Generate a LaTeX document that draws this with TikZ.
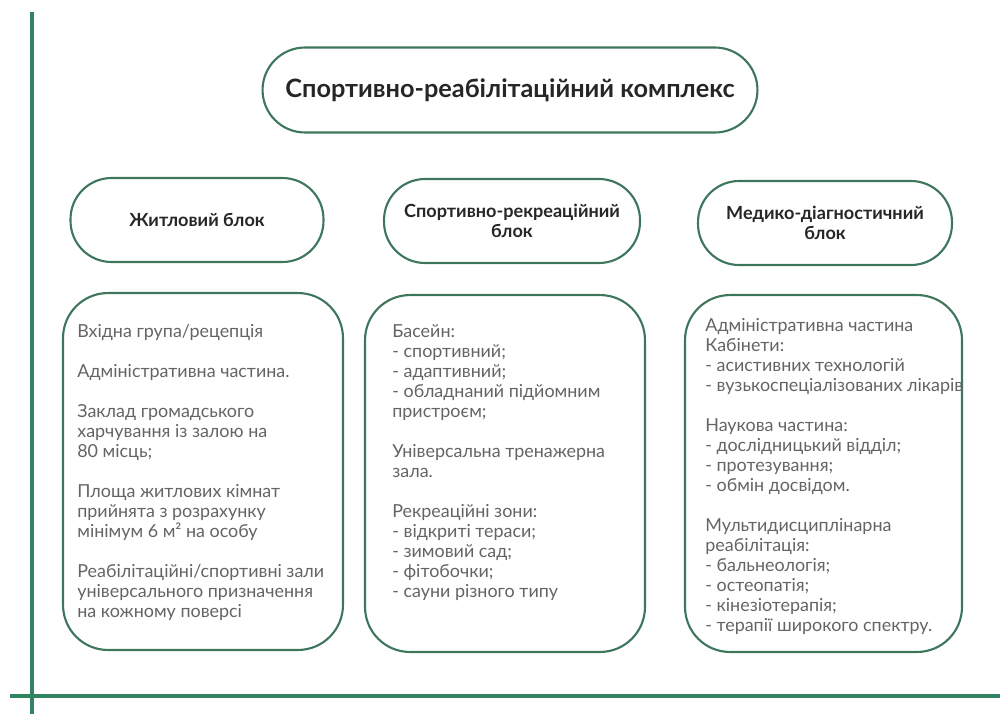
\documentclass[tikz,border=0pt]{standalone}
\usepackage{fontspec}
\setmainfont{Lato}
\usepackage{xcolor}
\usetikzlibrary{positioning}
\definecolor{framegreen}{RGB}{62,118,92}
\definecolor{rulegreen}{RGB}{50,132,96}
\definecolor{bodygray}{RGB}{100,100,100}
\tikzset{
  pill/.style={
    draw = framegreen,
    line width = 1.2pt,
    rounded corners = 0.82cm,
    minimum height = 1.68cm,
    align = center,
    text = black!85,
    font = \bfseries\fontsize{10.3}{11.4}\selectfont
  },
  panel/.style={
    draw = framegreen,
    line width = 1.2pt,
    rounded corners = 0.9cm,
    minimum height = 7.14cm
  },
  listing/.style={
    anchor = north west,
    inner sep = 0pt,
    align = left,
    text = bodygray,
    font = \fontsize{10.2}{11.38}\selectfont
  },
  rule/.style={
    draw = rulegreen,
    line width = 1.8pt
  }
}

\begin{document}
\begin{tikzpicture}[x=0.02cm,y=-0.02cm]
    \def\gap{11.38pt}
    \useasboundingbox (0,0) rectangle (1000,714);
    \coordinate (vtop) at (32,12);
    \coordinate (vbot) at (32,714);
    \coordinate (hleft) at (10,696);
    \coordinate (hright) at (1000,696);
    \draw[rule] (vtop) -- (vbot);
    \draw[rule] (hleft) -- (hright);
    \node[pill, minimum width=9.9cm, minimum height=1.7cm, rounded corners=0.85cm,
      font=\bfseries\fontsize{14.4}{16}\selectfont] (complex) at (510,90) {Спортивно-реабілітаційний комплекс};
    \node[pill, minimum width=5.06cm] (living) at (197,220) {Житловий блок};
    \node[pill, minimum width=5.12cm] (sport) at (512,221) {Спортивно-рекреаційний\\блок};
    \node[pill, minimum width=5.08cm] (medical) at (825,223) {Медико-діагностичний\\блок};
    \node[panel, minimum width=5.6cm] (livingpanel) at (203,471.5) {};
    \node[panel, minimum width=5.6cm] (sportpanel) at (505,473.5) {};
    \node[panel, minimum width=5.54cm] (medicalpanel) at (823.5,473.5) {};
    \node[listing] (livinglist) at (77,324) {Вхідна група/рецепція\\[\gap]
      Адміністративна частина.\\[\gap]
      Заклад громадського\\харчування із залою на\\80 місць;\\[\gap]
      Площа житлових кімнат\\прийнята з розрахунку\\мінімум 6 м² на особу\\[\gap]
      Реабілітаційні/спортивні зали\\універсального призначення\\на кожному поверсі};
    \node[listing] (sportlist) at (392,324) {Басейн:\\- спортивний;\\- адаптивний;\\- обладнаний підйомним\\пристроєм;\\[\gap]
      Універсальна тренажерна\\зала.\\[\gap]
      Рекреаційні зони:\\- відкриті тераси;\\- зимовий сад;\\- фітобочки;\\- сауни різного типу};
    \node[listing] (medicallist) at (705,318) {Адміністративна частина\\Кабінети:\\- асистивних технологій\\- вузькоспеціалізованих лікарів\\[\gap]
      Наукова частина:\\- дослідницький відділ;\\- протезування;\\- обмін досвідом.\\[\gap]
      Мультидисциплінарна\\реабілітація:\\- бальнеологія;\\- остеопатія;\\- кінезіотерапія;\\- терапії широкого спектру.};
\end{tikzpicture}
\end{document}
